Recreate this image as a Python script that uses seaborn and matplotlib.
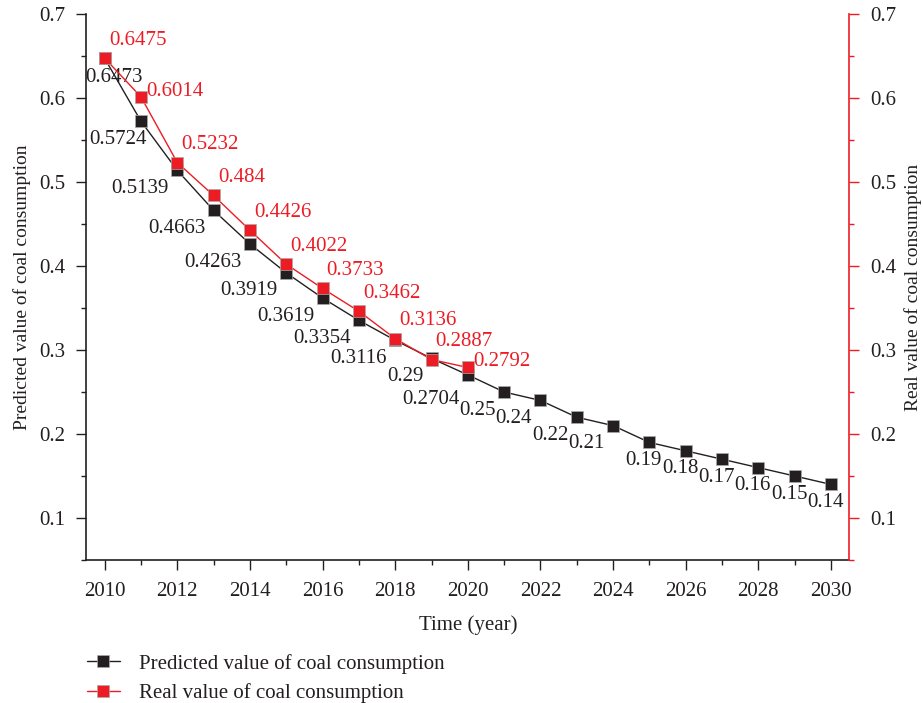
import numpy as np
import pandas as pd
import seaborn as sns
import matplotlib.pyplot as plt
from matplotlib.ticker import MultipleLocator
from matplotlib.lines import Line2D

# data
years = list(range(2010, 2031))
predicted = [0.6473, 0.5724, 0.5139, 0.4663, 0.4263, 0.3919, 0.3619, 0.3354, 0.3116, 0.29,
             0.2704, 0.25, 0.24, 0.22, 0.21, 0.19, 0.18, 0.17, 0.16, 0.15, 0.14]
real_years = list(range(2010, 2021))
real = [0.6475, 0.6014, 0.5232, 0.484, 0.4426, 0.4022, 0.3733, 0.3462, 0.3136, 0.2887, 0.2792]
pred_label = ['0.6473', '0.5724', '0.5139', '0.4663', '0.4263', '0.3919', '0.3619', '0.3354',
              '0.3116', '0.29', '0.2704', '0.25', '0.24', '0.22', '0.21', '0.19', '0.18',
              '0.17', '0.16', '0.15', '0.14']
real_label = ['0.6475', '0.6014', '0.5232', '0.484', '0.4426', '0.4022', '0.3733', '0.3462',
              '0.3136', '0.2887', '0.2792']
yticks = [0.1, 0.2, 0.3, 0.4, 0.5, 0.6, 0.7]
ytick_labels = ['0.1', '0.2', '0.3', '0.4', '0.5', '0.6', '0.7']

BLACK = '#231f20'
RED = '#ed1c24'
FS = 15

sns.set_style('ticks')
plt.rcParams['font.family'] = ['Liberation Serif', 'DejaVu Serif']
plt.rcParams['font.size'] = FS

df_pred = pd.DataFrame({'year': years, 'value': predicted})
df_real = pd.DataFrame({'year': real_years, 'value': real})

fig = plt.figure(figsize=(9.23, 7.03), dpi=100)
ax = fig.add_axes([0.0937, 0.2034, 0.8263, 0.7766])
ax2 = ax.twinx()

mk = dict(marker='s', markersize=8, markeredgecolor='#aaaaaa', markeredgewidth=0.5, linewidth=1.0)
sns.lineplot(data=df_pred, x='year', y='value', ax=ax, color=BLACK, markerfacecolor=BLACK, **mk)
sns.lineplot(data=df_real, x='year', y='value', ax=ax2, color=RED, markerfacecolor=RED, **mk)

for a in (ax, ax2):
    a.set_xlim(2009.5, 2030.5)
    a.set_ylim(0.05, 0.7)
    a.yaxis.set_minor_locator(MultipleLocator(0.05))
    a.set_yticks(yticks)
    a.set_yticklabels(ytick_labels)
    a.tick_params(which='major', length=7, width=1, direction='out', labelsize=FS, pad=8)
    a.tick_params(which='minor', length=3.5, width=1, direction='out')
    a.spines['top'].set_visible(False)

ax.set_xticks(range(2010, 2031, 2))
ax.xaxis.set_minor_locator(MultipleLocator(1))
ax.tick_params(axis='x', pad=9)

for s in ('left', 'bottom'):
    ax.spines[s].set_color(BLACK)
    ax.spines[s].set_linewidth(1.2)
ax.spines['right'].set_visible(False)
ax2.spines['left'].set_visible(False)
ax2.spines['bottom'].set_visible(False)
ax2.spines['right'].set_color(RED)
ax2.spines['right'].set_linewidth(1.2)
ax.tick_params(which='both', colors=BLACK, labelcolor=BLACK)
ax2.tick_params(which='both', colors=RED, labelcolor=BLACK)

ax.set_xlabel('Time (year)', fontsize=FS, color=BLACK, labelpad=10)
ax.set_ylabel('Predicted value of coal consumption', fontsize=14, color=BLACK, labelpad=6)
ax2.set_ylabel('Real value of coal consumption', fontsize=14, color=BLACK, labelpad=6)

# value labels (offsets in points)
for i, (x, y, t) in enumerate(zip(years, predicted, pred_label)):
    if i == 0:
        off, ha = (7, -14), 'center'
    elif i == 1:
        off, ha = (4, -13), 'right'
    elif i == 10:
        off, ha = (-6, -18), 'right'
    elif i >= 15:
        off, ha = (-4, -13), 'center'
    else:
        off, ha = (-6, -13), 'right'
    ax.annotate(t, (x, y), xytext=off, textcoords='offset points', ha=ha, va='center',
                fontsize=FS, color=BLACK)

for i, (x, y, t) in enumerate(zip(real_years, real, real_label)):
    if i in (1, 10):
        off = (4, 4)
    else:
        off = (3, 13)
    ax2.annotate(t, (x, y), xytext=off, textcoords='offset points', ha='left', va='center',
                 fontsize=FS, color=RED)

handles = [Line2D([], [], color=BLACK, markerfacecolor=BLACK, **mk),
           Line2D([], [], color=RED, markerfacecolor=RED, **mk)]
leg = fig.legend(handles, ['Predicted value of coal consumption', 'Real value of coal consumption'],
                 loc='upper left', bbox_to_anchor=(0.094, 0.070), frameon=False,
                 fontsize=FS, handlelength=1.6, handletextpad=0.9, labelspacing=0.45,
                 borderaxespad=0, borderpad=0)
for txt in leg.get_texts():
    txt.set_color(BLACK)

fig.savefig('out.png', dpi=100)
